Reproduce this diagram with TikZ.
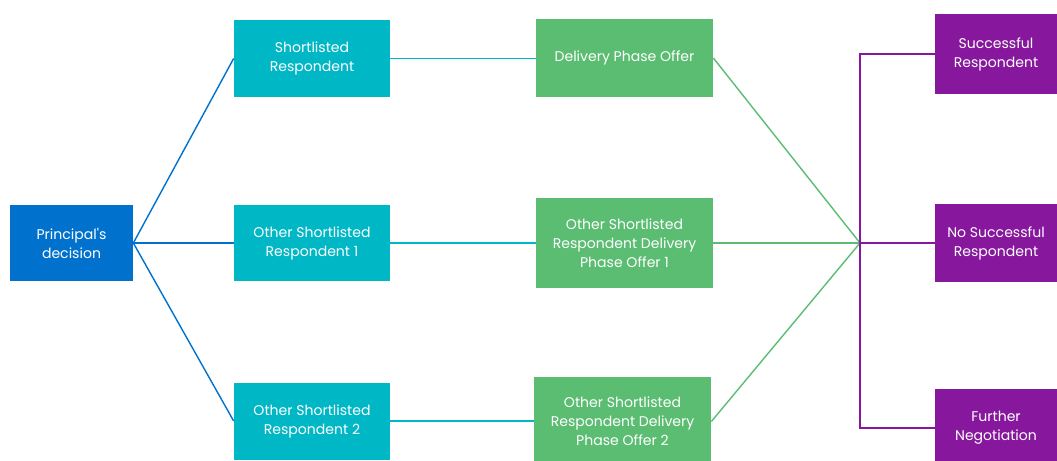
\documentclass[tikz,border=0pt]{standalone}
\usepackage{fontspec}
\setmainfont{Poppins}
\usepackage{xcolor}
\usetikzlibrary{positioning}

\definecolor{decblue}{HTML}{0072CE}
\definecolor{respteal}{HTML}{00B7C6}
\definecolor{offergreen}{HTML}{5BBD72}
\definecolor{outpurple}{HTML}{87189D}

\begin{document}
\begin{tikzpicture}[
    x=0.02cm, y=-0.02cm,
    box/.style={rectangle, draw=none, text=white, align=center, inner sep=0pt, font=\fontsize{8}{10.8}\selectfont},
    decision/.style={box, fill=decblue, minimum width=2.46cm, minimum height=1.54cm},
    resp/.style={box, fill=respteal, minimum width=3.12cm, minimum height=1.54cm},
    offer/.style={box, fill=offergreen, minimum width=3.54cm, minimum height=1.58cm},
    outcome/.style={box, fill=outpurple, minimum width=2.44cm, minimum height=1.56cm},
    blueline/.style={draw=decblue, line width=0.8pt},
    tealline/.style={draw=respteal, line width=0.8pt},
    greenline/.style={draw=offergreen, line width=0.8pt},
    purpleline/.style={draw=outpurple, line width=0.8pt}
]
\clip (0,0) rectangle (1057,460);

% Left: decision
\node[decision] (principal) at (71.5,243) {Principal\textquotesingle s\\decision};

% Respondents
\node[resp] (short) at (312,58.5) {Shortlisted\\Respondent};
\node[resp] (other1) at (312,243) {Other Shortlisted\\Respondent 1};
\node[resp] (other2) at (312,421) {Other Shortlisted\\Respondent 2};

% Delivery phase offers
\node[offer] (offer) at (624.5,58) {Delivery Phase Offer};
\node[offer, minimum height=1.82cm] (offer1) at (624.5,243) {Other Shortlisted\\Respondent Delivery\\Phase Offer 1};
\node[offer, minimum height=1.8cm] (offer2) at (622.5,421.5) {Other Shortlisted\\Respondent Delivery\\Phase Offer 2};

% Outcomes
\coordinate (hub) at (860,243);
\node[outcome, minimum height=1.6cm] (success) at (996,54) {Successful\\Respondent};
\node[outcome] (nosuccess) at (996,243) {No Successful\\Respondent};
\node[outcome, minimum height=1.58cm] (further) at (996,428) {Further\\Negotiation};

% Decision to respondents
\draw[blueline] (principal.east) -- (short.west);
\draw[blueline] (principal.east) -- (other1.west);
\draw[blueline] (principal.east) -- (other2.west);

% Respondents to offers
\draw[tealline] (short.east) -- (short.east -| offer.west);
\draw[tealline] (other1.east) -- (offer1.west);
\draw[tealline] (other2.east) -- (offer2.west |- other2.east);

% Offers to outcomes
\draw[greenline] (offer.east) -- (hub);
\draw[greenline] (offer1.east) -- (hub);
\draw[greenline] (offer2.east) -- (hub);
\draw[purpleline] (hub) -- (nosuccess.west);
\draw[purpleline] (success.west) -- (success.west -| hub) -- (further.west -| hub) -- (further.west);

\end{tikzpicture}
\end{document}
